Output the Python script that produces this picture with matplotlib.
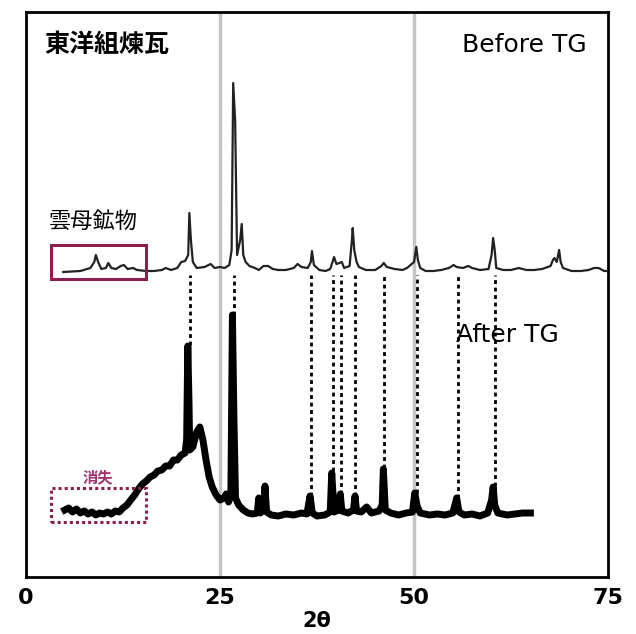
import matplotlib
matplotlib.use("Agg")
import matplotlib.pyplot as plt
from matplotlib.patches import Rectangle

# before TG pattern (2theta, intensity)
before_2t = [4.8, 7.0, 8.3, 8.8, 9.0, 9.3, 9.7, 10.3, 10.6, 11.0, 11.6, 12.2, 12.6, 13.1, 13.8, 14.3,
             15.5, 16.5, 17.5, 18.0, 18.7, 19.5, 20.0, 20.5, 20.9, 21.05, 21.25, 21.5, 22.0, 23.0, 23.8,
             24.3, 25.0, 25.6, 26.2, 26.5, 26.7, 26.95, 27.2, 27.6, 27.8, 28.0, 28.3, 28.8, 29.5, 30.0,
             30.6, 31.2, 31.8, 32.5, 33.5, 34.5, 35.0, 35.5, 36.3, 36.7, 36.85, 37.1, 37.8, 38.6, 39.2,
             39.5, 39.7, 40.0, 40.4, 40.7, 41.0, 41.7, 42.0, 42.1, 42.3, 42.6, 42.9, 43.8, 45.0, 45.8,
             46.1, 46.5, 47.5, 48.5, 49.1, 49.4, 50.0, 50.3, 50.5, 50.8, 51.5, 52.5, 53.5, 54.5, 55.1,
             55.5, 56.3, 57.0, 57.5, 58.5, 59.6, 60.0, 60.2, 60.4, 60.6, 61.5, 62.5, 63.5, 64.5, 65.5,
             66.5, 67.6, 67.9, 68.1, 68.4, 68.7, 68.9, 69.2, 70.3, 71.5, 72.5, 73.2, 73.8, 74.5, 75.0]
before_int = [305, 306, 309, 315, 322, 315, 308, 309, 314, 309, 308, 311, 312, 308, 309, 307,
              306, 306, 307, 309, 307, 309, 315, 316, 322, 364, 337, 315, 309, 310, 313,
              309, 310, 309, 312, 327, 494, 457, 322, 337, 353, 322, 315, 311, 309, 307,
              311, 311, 308, 307, 307, 309, 313, 310, 309, 315, 326, 312, 307, 306, 308,
              315, 320, 313, 314, 315, 309, 311, 337, 349, 327, 315, 310, 307, 307, 311,
              314, 310, 308, 307, 309, 311, 315, 330, 317, 309, 306, 306, 307, 309, 312,
              310, 309, 311, 309, 307, 308, 322, 339, 327, 309, 307, 307, 309, 307, 307,
              308, 311, 317, 319, 315, 327, 315, 309, 306, 306, 307, 309, 309, 306, 306]

# after TG pattern
after_2t = [5.0, 5.5, 6.0, 6.5, 7.0, 7.5, 8.0, 8.5, 9.0, 9.5, 10.0, 10.5, 11.0, 11.5, 12.0, 12.5,
            13.0, 13.5, 14.0, 14.5, 15.0, 15.5, 16.0, 16.5, 17.0, 17.5, 18.0, 18.5, 19.0, 19.5,
            20.0, 20.5, 20.7, 20.85, 21.0, 21.1, 21.5, 22.0, 22.4, 22.8, 23.2, 23.6, 24.0, 24.5,
            25.0, 25.5, 25.8, 26.1, 26.4, 26.6, 26.8, 27.0, 27.4, 28.0, 28.6, 29.2, 29.8, 30.0,
            30.2, 30.6, 30.8, 31.0, 31.6, 32.5, 33.5, 34.5, 35.5, 36.2, 36.6, 36.9, 37.5, 38.5,
            39.2, 39.4, 39.7, 40.3, 40.5, 40.7, 41.5, 42.2, 42.4, 42.6, 43.2, 43.9, 44.5, 45.5,
            45.9, 46.05, 46.3, 47.0, 48.0, 49.0, 49.8, 50.1, 50.4, 50.8, 52.0, 53.0, 54.0, 55.0,
            55.5, 55.8, 56.5, 57.5, 58.5, 59.5, 60.0, 60.2, 60.4, 60.8, 62.0, 63.0, 64.0, 65.0]
after_int = [67, 69, 65, 68, 64, 66, 63, 65, 62, 64, 63, 65, 63, 66, 65, 69,
             72, 77, 82, 88, 93, 96, 100, 102, 106, 107, 111, 111, 117, 117,
             122, 124, 137, 231, 177, 127, 130, 145, 150, 137, 117, 100, 90, 82,
             77, 79, 83, 75, 82, 262, 157, 79, 72, 67, 64, 63, 64, 79,
             64, 67, 91, 65, 62, 61, 63, 62, 64, 63, 81, 64, 61, 62,
             65, 104, 65, 67, 83, 66, 64, 67, 81, 66, 65, 70, 64, 66,
             72, 108, 67, 64, 62, 64, 65, 84, 71, 64, 62, 63, 62, 64,
             79, 65, 62, 63, 61, 64, 77, 90, 72, 64, 62, 63, 64, 64]

# peaks linked between the two patterns
link_2t = [21.13, 26.8, 36.7, 39.56, 40.6, 42.4, 46.1, 50.4, 55.7, 60.4]
link_top = [302, 302, 302, 302, 302, 302, 302, 302, 302, 302]
link_bottom = [232, 262, 81, 106, 83, 81, 109, 84, 79, 91]

xticks = [0, 25, 50, 75]

fig = plt.figure(figsize=(6.36, 6.34), dpi=100)
ax = fig.add_axes([26/636, 57/634, 582/636, 565/634])

for g in [25, 50]:
    ax.axvline(g, color="#c4c4c4", lw=2.5, zorder=0)

ax.plot(before_2t, before_int, color="#222222", lw=1.6, zorder=3)
ax.plot(after_2t, after_int, color="black", lw=5, zorder=3, solid_joinstyle="round")

ax.vlines(link_2t, link_bottom, link_top, colors="black", lw=2, linestyles=(0, (1.4, 1.3)), zorder=2)

ax.add_patch(Rectangle((3.2, 298), 12.3, 34, fill=False, ec="#8c1f50", lw=2.2, zorder=4))
ax.add_patch(Rectangle((3.2, 55), 12.3, 34, fill=False, ec="#8c1f50", lw=2.2,
                       linestyle=(0, (1, 1)), zorder=4))

cjk = ["Noto Sans CJK JP", "DejaVu Sans"]
ax.text(2.3, 532, "東洋組煉瓦", family=cjk, fontsize=18, fontweight="bold", ha="left", va="center")
ax.text(72.2, 532, "Before TG", fontsize=18, ha="right", va="center")
ax.text(3.0, 356, "雲母鉱物", family=cjk, fontsize=16, ha="left", va="center")
ax.text(9.3, 100, "消失", family=cjk, fontsize=11, fontweight="bold", color="#a3336f",
        ha="center", va="center")
ax.text(55.4, 242, "After TG", fontsize=18, ha="left", va="center")

ax.set_xlim(0, 75)
ax.set_ylim(0, 565)
ax.set_xticks(xticks)
ax.set_xticklabels([str(t) for t in xticks], fontsize=16, fontweight="bold")
ax.set_yticks([])
ax.tick_params(axis="x", length=0, pad=8)
ax.set_xlabel("2θ", fontsize=15, fontweight="bold", labelpad=2)
for s in ax.spines.values():
    s.set_linewidth(2)

fig.savefig("out.png", dpi=100)
